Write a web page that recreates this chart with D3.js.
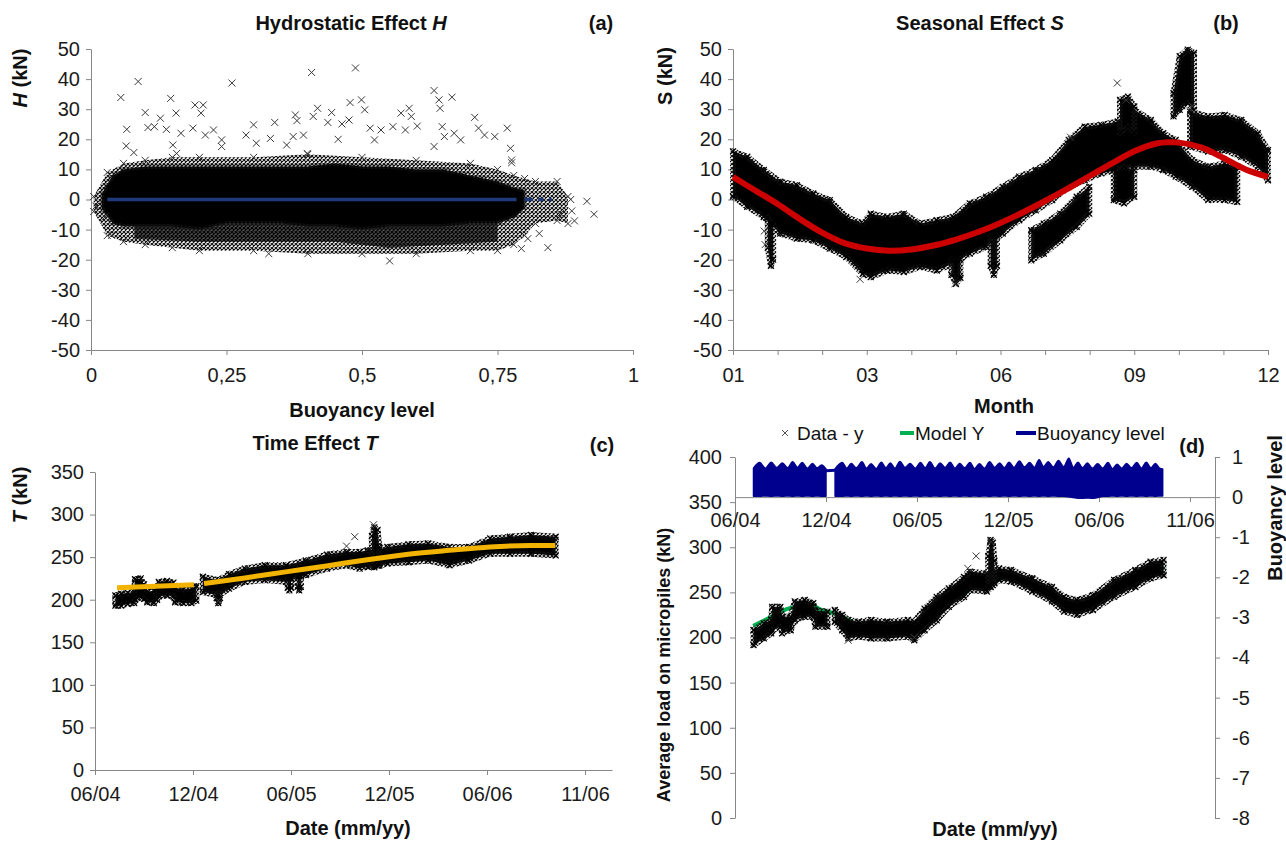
<!DOCTYPE html>
<html><head><meta charset="utf-8">
<script src="https://cdn.jsdelivr.net/npm/d3@7"></script>
<style>body{margin:0;background:#fff}svg text{font-family:"Liberation Sans",Arial,sans-serif}</style>
</head><body>
<svg id="chart" width="1286" height="844"></svg>
<script>
// ---------------- DATA ----------------
// (a) Hydrostatic effect H vs buoyancy level: [x, low, high] envelopes of the dense cloud
const hydroCore = [[0.02,-3,2],[0.04,-8,8],[0.06,-9,10],[0.10,-9,11],[0.15,-9,11],[0.20,-10,11],[0.25,-8,11],[0.30,-8,11],[0.35,-8,11],[0.40,-9,11],[0.45,-9,12],[0.50,-10,11],[0.55,-9,11],[0.60,-9,10],[0.65,-9,10],[0.70,-8,8],[0.75,-8,6],[0.78,-6,4],[0.80,-3,3]];
const hydroLowerDense = [[0.08,-13,-8],[0.20,-14,-8],[0.30,-14,-8],[0.45,-14,-8],[0.55,-16,-8],[0.65,-15,-8],[0.75,-14,-8]];
const hydroHalo = [[0.005,-4,1],[0.03,-12,9],[0.06,-14,12],[0.10,-15,13],[0.15,-16,14],[0.20,-17,14],[0.30,-17,14],[0.40,-18,15],[0.50,-18,14],[0.60,-18,13],[0.70,-17,12],[0.75,-17,10],[0.78,-15,8],[0.80,-12,7],[0.82,-8,6],[0.86,-7,6],[0.88,-8,1]];
const hydroOutliers = [[0.055,33.9],[0.087,39.2],[0.066,23.3],[0.065,17.8],[0.079,15.6],[0.10,28.9],[0.105,23.9],[0.117,24.2],[0.128,27],[0.147,33.6],[0.157,28.7],[0.139,23.3],[0.166,22],[0.151,18.1],[0.158,15.3],[0.192,31.4],[0.207,31.4],[0.203,28.7],[0.188,23.7],[0.226,23.1],[0.211,21.4],[0.241,19.8],[0.26,38.7],[0.241,17.6],[0.286,21.4],[0.30,24.8],[0.305,18.7],[0.339,25.6],[0.331,20.3],[0.328,-18],[0.361,18.1],[0.377,28.1],[0.38,26.2],[0.373,20.9],[0.392,21.4],[0.407,42.2],[0.41,27.6],[0.418,30.3],[0.399,15.3],[0.437,25.6],[0.444,28.9],[0.456,20],[0.463,25.1],[0.478,32.2],[0.488,43.7],[0.476,26.4],[0.499,33.1],[0.505,29.8],[0.515,23.7],[0.535,23.1],[0.523,19.8],[0.557,24.2],[0.572,28.7],[0.587,30.3],[0.58,23.1],[0.591,27.6],[0.602,24.4],[0.633,36.2],[0.642,33.1],[0.644,30.3],[0.666,34],[0.648,24.2],[0.633,17.6],[0.652,20.9],[0.67,22],[0.682,19.8],[0.708,27.3],[0.715,23.7],[0.726,21.4],[0.745,20.9],[0.768,23.7],[0.774,17],[0.776,13.1],[0.794,-16.3],[0.806,-13],[0.827,-11.3],[0.843,-16],[0.885,0],[0.887,-3.8],[0.892,-7.1],[0.915,-0.6],[0.928,-4.9],[0.866,-4.7],[0.009,-2.2],[0.026,-5.8],[0.038,-11.9],[0.551,-20.4],[0.776,12.2]];
const hydroModelSegments = [[0.03,0.785],[0.80,0.815],[0.825,0.835],[0.845,0.85]];
const hydroTickVals = [0,0.25,0.5,0.75,1];
const hydroTickLabels = ["0","0,25","0,5","0,75","1"];

// (b) Seasonal effect S vs month
const seasonCurve = [[0,7.5],[0.5,3],[1,-1.5],[1.5,-6.5],[2,-11],[2.5,-14.5],[3,-16.3],[3.5,-17],[4,-16.6],[4.5,-15.3],[5,-13.3],[5.5,-10.8],[6,-7.8],[6.5,-4.3],[7,-0.5],[7.5,3.5],[8,7.8],[8.5,12],[9,16],[9.5,18.6],[9.8,19],[10,18.9],[10.5,17.3],[11,13.8],[11.5,10],[12,7.5]];
const seasonMain = [[0,1,16],[0.32,-2.4,14.2],[0.69,-5.8,9.8],[1.06,-11.3,5.9],[1.43,-13,4.8],[1.8,-13.6,2],[2.17,-16.3,-0.2],[2.54,-19.1,-5.8],[2.91,-24.7,-8],[3.09,-25.8,-4.7],[3.46,-23.6,-5.8],[3.83,-24.1,-4.7],[4.2,-22.4,-8],[4.57,-23.6,-6.9],[4.94,-21.3,-5.8],[5.31,-18,-1.3],[5.68,-15.8,0.9],[6.05,-11.3,4.2],[6.42,-6.9,7.6],[6.79,-3.6,9.8],[7.16,-0.2,13.1],[7.53,4.2,19.8],[7.89,6.4,24.2],[8.26,8.7,24.8],[8.63,9.8,25.9],[9.0,10.9,29.8],[9.37,10.9,26.4],[9.65,9.8,22],[9.93,7.6,19.8],[10.3,4.2,13.1],[10.66,-0.2,10.9],[11.03,-0.2,12],[11.31,-0.8,10.9]];
const seasonUpper = [[10.25,17.6,29.2],[10.66,15.9,27.6],[11.03,16.4,28.1],[11.4,14.2,26.4],[11.77,10.9,22],[12,6.4,16.4]];
const seasonCluster = [[9.88,27.6,35.3],[10.02,29.8,47.6],[10.2,32,49.8],[10.34,29.8,48.7]];
const seasonSecondary = [[6.69,-20.2,-10.2],[6.97,-18,-8],[7.34,-13.6,-4.7],[7.71,-9.1,0.9],[7.99,-4.7,4.2]];
const seasonBlob = [[8.54,-0.2,9.8],[8.77,-1.3,10.9],[9.0,0.9,9.8]];
const seasonSpike = [[8.68,22,33.1],[8.86,24.2,34.2],[9.0,22,30.9]];
const seasonStreak1 = [[0.78,-16,-6],[0.85,-22,-8],[0.9,-20,-8]];
const seasonStreak2 = [[4.9,-25,-20],[5.0,-28,-20],[5.1,-26,-20]];
const seasonStreak3 = [[5.78,-22,-12],[5.85,-25,-12],[5.92,-22,-12]];
const seasonOutliers = [[8.62,38.7],[8.82,33],[7.57,20.7],[0.72,-15],[0.7,-10.5],[2.85,-26.5],[4.98,-28],[10.3,31]];
const seasonTickPos = [0,3,6,9,12];
const seasonTickLabels = ["01","03","06","09","12"];

// (c) Time effect T vs date (months since 06/04)
const timeSeg1 = [[1.25,193,205],[1.6,193,207],[2.0,195,208],[2.4,196,209],[2.45,200,224],[2.8,203,225],[3.0,201,218],[3.2,197,210],[3.6,196,210],[3.8,200,212],[3.9,204,221],[4.4,205,222],[4.8,204,220],[4.9,197,214],[5.4,196,212],[5.9,196,213],[6.2,199,216]];
const timeSeg2 = [[6.6,209,227],[7.55,205,223],[8.2,213,230],[9.18,221,236.6],[10.4,223,240.5],[11.7,221,240.5],[12.9,229,246],[14.2,236.6,253],[15.4,240.5,256],[16.2,236.6,256],[16.7,238.6,258],[17.4,240,259],[17.9,242.5,262],[19.2,244,265],[20.4,246,266],[21.7,240.5,262],[22.9,246,262],[24.2,254,272],[25.4,254,274],[26.7,254,276],[28.2,252,274]];
const timeDip1 = [[7.45,202,215],[7.55,196,215],[7.65,202,215]];
const timeDip2 = [[11.8,214,225],[11.9,211,225],[12.0,214,225]];
const timeDip3 = [[12.4,215,228],[12.5,211,228],[12.6,215,228]];
const timeSpike = [[16.95,240,275],[17.1,238,285],[17.3,240,282],[17.4,242,262]];
const timeOutliers = [[15.4,263],[15.9,274],[17.05,288],[7.55,199]];
const timeTrend1 = [[1.35,214],[6.05,217.5]];
const timeTrend2 = [[6.675,219],[9.175,225.6],[11.675,232.7],[14.175,239.7],[16.675,247],[19.175,253.4],[21.675,258],[24.175,262],[26.675,263.6],[28.175,263.6]];
const dateTickPos = [0,6,12,18,24,30];
const dateTickLabels = ["06/04","12/04","06/05","12/05","06/06","11/06"];

// (d) Average load and buoyancy level vs date
const loadSeg1 = [[1.22,191.7,208.3],[1.9,199,215.7],[2.39,204.6,219.4],[2.45,208,234],[2.99,212,234],[3.1,204.6,223],[3.67,208,223],[3.94,219,240],[4.6,223,241.5],[5.16,223,238],[5.3,212,230],[6.1,212,228.6]];
const loadSeg2 = [[6.58,217.5,230.5],[7.07,208,225],[7.47,199,219.4],[8.15,201,217.5],[8.97,199,219.4],[10.05,199,217.5],[11.4,201,219.4],[11.82,197,217.5],[12.5,208,232],[13.3,219,245],[14.1,234,254.5],[15.1,245,267],[15.5,252.6,273],[16.6,251,271],[17.4,263.7,276.6],[18.2,262,274.8],[19.6,251,265.6],[20.9,240,256],[21.7,228.6,245],[22.55,225,241.5],[23.6,230.5,247],[25.0,245,263.7],[26.4,256,274.8],[27.4,265.6,284],[28.26,269,286]];
const loadSpike = [[16.7,256,290],[16.85,256,308],[17.0,258,305],[17.1,260,285]];
const loadOutliers = [[15.35,276.6],[15.9,290.3],[7.47,197],[11.82,200],[16.9,306]];
const loadModel = [[1.2,213],[2.4,223],[3.5,232],[4.9,236],[5.8,230],[6.5,227],[7.3,221],[8.5,212],[10,210],[11,211],[12,214],[13,228],[14,240],[15.0,247],[15.6,255],[17.0,264],[18,266],[19,260],[20,252],[21,245],[22,238],[22.8,236],[23.6,240],[24.5,248],[25.5,257],[26.5,266],[27.5,274],[28.3,277]];
const buoySeg1 = [[1.22,0.02,0.72],[1.63,0.02,0.86],[2.0,0.03,0.72],[2.39,0.02,0.87],[2.75,0.03,0.74],[3.13,0.02,0.85],[3.47,0.03,0.73],[3.80,0.02,0.88],[4.12,0.03,0.74],[4.43,0.02,0.86],[4.77,0.03,0.72],[5.11,0.02,0.84],[5.41,0.03,0.73],[5.71,0.02,0.80],[6.0,0.02,0.70]];
const buoyGap = [[6.0,0.66],[6.6,0.67]];
const buoySeg2 = [[6.6,0.02,0.70],[7.07,0.02,0.86],[7.37,0.03,0.72],[7.66,0.02,0.84],[8.0,0.03,0.73],[8.37,0.02,0.88],[8.67,0.03,0.72],[8.97,0.02,0.83],[9.31,0.03,0.71],[9.65,0.02,0.87],[9.95,0.03,0.73],[10.24,0.02,0.85],[10.55,0.03,0.72],[10.87,0.02,0.89],[11.21,0.03,0.74],[11.55,0.02,0.84],[11.89,0.03,0.72],[12.23,0.02,0.86],[12.54,0.03,0.73],[12.85,0.02,0.88],[13.19,0.03,0.72],[13.53,0.02,0.85],[13.85,0.03,0.74],[14.18,0.02,0.87],[14.5,0.03,0.72],[14.81,0.02,0.84],[15.15,0.03,0.73],[15.49,0.02,0.86],[15.8,0.03,0.71],[16.11,0.02,0.83],[16.45,0.03,0.72],[16.79,0.02,0.88],[17.12,0.03,0.74],[17.45,0.02,0.85],[17.76,0.03,0.73],[18.07,0.02,0.87],[18.41,0.03,0.74],[18.75,0.02,0.90],[19.09,0.03,0.75],[19.43,0.02,0.86],[19.74,0.03,0.74],[20.05,0.02,0.93],[20.35,0.03,0.76],[20.65,0.02,0.88],[20.99,0.03,0.75],[21.33,0.02,0.91],[21.67,0.02,0.76],[22.01,0.01,0.97],[22.31,-0.01,0.74],[22.61,-0.03,0.87],[22.92,-0.03,0.73],[23.23,-0.02,0.85],[23.57,-0.03,0.72],[23.91,-0.01,0.83],[24.25,0.02,0.72],[24.59,0.02,0.86],[24.89,0.03,0.71],[25.19,0.02,0.82],[25.5,0.03,0.72],[25.82,0.02,0.84],[26.15,0.03,0.73],[26.49,0.02,0.86],[26.8,0.03,0.72],[27.12,0.02,0.87],[27.42,0.03,0.73],[27.72,0.02,0.84],[28.0,0.03,0.72],[28.2,0.03,0.70]];
const loadTicks = [0,50,100,150,200,250,300,350,400];
const buoyTicks = [-8,-7,-6,-5,-4,-3,-2,-1,0,1];
const hsTicks = [-50,-40,-30,-20,-10,0,10,20,30,40,50];
const timeTicks = [0,50,100,150,200,250,300,350];

// ---------------- DRAWING ----------------
const svg = d3.select("#chart");
const FONT = '"Liberation Sans", Arial, sans-serif';
const AXIS = "#878787";
const plain = d => String(d);   // hyphen-minus like the original
const defs = svg.append("defs");
const pat = defs.append("pattern").attr("id","xp").attr("width",4).attr("height",4).attr("patternUnits","userSpaceOnUse");
pat.append("path").attr("d","M0,0L4,4M4,0L0,4").attr("stroke","#111").attr("stroke-width",1.2);

function styleAxis(g, size){
  g.select(".domain").attr("stroke", AXIS).attr("stroke-width",1);
  g.selectAll(".tick line").attr("stroke", AXIS);
  g.selectAll(".tick text").attr("font-size", size||20).attr("fill","#1a1a1a").attr("font-family", FONT);
}
function band(g, data, x, y, fill, edge){
  g.append("path").datum(data)
    .attr("d", d3.area().x(d=>x(d[0])).y0(d=>y(d[1])).y1(d=>y(d[2])))
    .attr("fill", fill)
    .attr("stroke", edge ? "url(#xp)" : "none")
    .attr("stroke-width", edge || 0)
    .attr("stroke-linejoin","round");
}
function crosses(g, data, x, y, s, color, sw){
  g.selectAll(null).data(data).join("path")
    .attr("d", `M${-s},${-s}L${s},${s}M${s},${-s}L${-s},${s}`)
    .attr("transform", d=>`translate(${x(d[0])},${y(d[1])})`)
    .attr("stroke", color).attr("stroke-width", sw).attr("fill","none");
}
function blackBand(g, data, x, y){
  band(g, data, x, y, "#000", 6);
  crosses(g, data.map(d=>[d[0],d[1]]), x, y, 3, "#000", 1.2);
  crosses(g, data.map(d=>[d[0],d[2]]), x, y, 3, "#000", 1.2);
}
function text(t, x, y, opts){
  const el = svg.append("text").attr("x",x).attr("y",y).attr("text-anchor", opts.anchor||"middle")
    .attr("font-size", opts.size||20).attr("font-weight", opts.bold?"bold":"normal").attr("fill","#111").attr("font-family",FONT);
  if (opts.rotate) el.attr("transform", `rotate(${opts.rotate},${x},${y})`);
  (Array.isArray(t)?t:[[t,false]]).forEach(([s,it])=>el.append("tspan").attr("font-style", it?"italic":"normal").text(s));
  return el;
}

// ===== Panel (a) =====
const xA = d3.scaleLinear([0,1],[91,633]);
const yA = d3.scaleLinear([-50,50],[350,49]);
const gA = svg.append("g");
styleAxis(gA.append("g").attr("transform","translate(0,350)")
  .call(d3.axisBottom(xA).tickValues(hydroTickVals).tickFormat((d,i)=>hydroTickLabels[i]).tickSize(5).tickSizeOuter(0).tickPadding(13)));
styleAxis(gA.append("g").attr("transform","translate(91,0)")
  .call(d3.axisLeft(yA).tickValues(hsTicks).tickFormat(plain).tickSize(5).tickSizeOuter(0).tickPadding(6)));
band(gA, hydroHalo, xA, yA, "url(#xp)", 0);
band(gA, hydroLowerDense, xA, yA, "rgba(0,0,0,0.7)", 0);
crosses(gA, hydroHalo.map(d=>[d[0],d[1]]), xA, yA, 3.5, "#333", 1);
crosses(gA, hydroHalo.map(d=>[d[0],d[2]]), xA, yA, 3.5, "#333", 1);
band(gA, hydroCore, xA, yA, "#000", 5);
crosses(gA, hydroOutliers, xA, yA, 3.5, "#3a3a3a", 1);
hydroModelSegments.forEach(s=>{
  gA.append("line").attr("x1",xA(s[0])).attr("x2",xA(s[1])).attr("y1",yA(0)).attr("y2",yA(0))
    .attr("stroke","#1f3a7a").attr("stroke-width",3.5);
});
text([["Hydrostatic Effect ",false],["H",true]], 351, 30, {bold:true, size:20});
text("(a)", 601, 30, {bold:true, size:20});
text([["H",true],[" (kN)",false]], 27, 78, {bold:true, size:20, rotate:-90});
text("Buoyancy level", 362, 417, {bold:true, size:20});

// ===== Panel (b) =====
const xB = d3.scaleLinear([0,12],[733,1268]);
const yB = d3.scaleLinear([-50,50],[350,49]);
const gB = svg.append("g");
styleAxis(gB.append("g").attr("transform","translate(0,350)")
  .call(d3.axisBottom(xB).tickValues(d3.range(0,13)).tickFormat(d=>{const i=seasonTickPos.indexOf(d);return i<0?"":seasonTickLabels[i];}).tickSize(5).tickSizeOuter(0).tickPadding(13)));
styleAxis(gB.append("g").attr("transform","translate(733,0)")
  .call(d3.axisLeft(yB).tickValues(hsTicks).tickFormat(plain).tickSize(5).tickSizeOuter(0).tickPadding(6)));
[seasonMain, seasonUpper, seasonCluster, seasonSecondary, seasonBlob, seasonSpike, seasonStreak1, seasonStreak2, seasonStreak3]
  .forEach(b=>blackBand(gB, b, xB, yB));
crosses(gB, seasonOutliers, xB, yB, 3.5, "#3a3a3a", 1);
gB.append("path").datum(seasonCurve).attr("d", d3.line().x(d=>xB(d[0])).y(d=>yB(d[1])).curve(d3.curveCatmullRom))
  .attr("fill","none").attr("stroke","#cc0000").attr("stroke-width",6);
text([["Seasonal Effect ",false],["S",true]], 980, 30, {bold:true, size:20});
text("(b)", 1226, 30, {bold:true, size:20});
text("S (kN)", 672, 76, {bold:true, size:20, rotate:-90});
text("Month", 1004, 413, {bold:true, size:20});

// ===== Panel (c) =====
const xC = d3.scaleLinear([0,31.65],[95,612]);
const yC = d3.scaleLinear([0,350],[770,472]);
const gC = svg.append("g");
styleAxis(gC.append("g").attr("transform","translate(0,770)")
  .call(d3.axisBottom(xC).tickValues(dateTickPos).tickFormat((d,i)=>dateTickLabels[i]).tickSize(5).tickSizeOuter(0).tickPadding(12)));
styleAxis(gC.append("g").attr("transform","translate(95,0)")
  .call(d3.axisLeft(yC).tickValues(timeTicks).tickFormat(plain).tickSize(5).tickSizeOuter(0).tickPadding(6)));
[timeSeg1, timeSeg2, timeDip1, timeDip2, timeDip3, timeSpike].forEach(b=>blackBand(gC, b, xC, yC));
crosses(gC, timeOutliers, xC, yC, 3.5, "#3a3a3a", 1);
[timeTrend1, timeTrend2].forEach(t=>{
  gC.append("path").datum(t).attr("d", d3.line().x(d=>xC(d[0])).y(d=>yC(d[1])).curve(d3.curveMonotoneX))
    .attr("fill","none").attr("stroke","#f2b400").attr("stroke-width",5);
});
text([["Time Effect ",false],["T",true]], 315, 450, {bold:true, size:20});
text("(c)", 602, 452, {bold:true, size:20});
text([["T",true],[" (kN)",false]], 27, 495, {bold:true, size:20, rotate:-90});
text("Date (mm/yy)", 348, 835, {bold:true, size:20});

// ===== Panel (d) =====
const xD = d3.scaleLinear([0,31.65],[735,1215]);
const yD = d3.scaleLinear([0,400],[818,457]);
const yD2 = d3.scaleLinear([-8,1],[818,457]);
const gD = svg.append("g");
styleAxis(gD.append("g").attr("transform","translate(735,0)")
  .call(d3.axisLeft(yD).tickValues(loadTicks).tickFormat(plain).tickSize(5).tickSizeOuter(0).tickPadding(8)));
styleAxis(gD.append("g").attr("transform","translate(1215,0)")
  .call(d3.axisRight(yD2).tickValues(buoyTicks).tickFormat(plain).tickSize(5).tickSizeOuter(0).tickPadding(12)));
styleAxis(gD.append("g").attr("transform",`translate(0,${yD2(0)})`)
  .call(d3.axisBottom(xD).tickValues(dateTickPos).tickFormat((d,i)=>dateTickLabels[i]).tickSize(5).tickSizeOuter(0).tickPadding(11)));
const navy = "#00008f";
[buoySeg1, buoySeg2].forEach(b=>{
  gD.append("path").datum(b).attr("d", d3.area().x(d=>xD(d[0])).y0(d=>yD2(d[1])).y1(d=>yD2(d[2])).curve(d3.curveMonotoneX))
    .attr("fill", navy).attr("stroke", navy).attr("stroke-width",1.5).attr("stroke-linejoin","round");
});
gD.append("path").datum(buoyGap).attr("d", d3.line().x(d=>xD(d[0])).y(d=>yD2(d[1])))
  .attr("fill","none").attr("stroke",navy).attr("stroke-width",3);
gD.append("path").datum(loadModel).attr("d", d3.line().x(d=>xD(d[0])).y(d=>yD(d[1])).curve(d3.curveMonotoneX))
  .attr("fill","none").attr("stroke","#00b050").attr("stroke-width",4);
[loadSeg1, loadSeg2, loadSpike].forEach(b=>blackBand(gD, b, xD, yD));
crosses(gD, loadOutliers, xD, yD, 3.5, "#3a3a3a", 1);
// legend
crosses(svg, [[785,433]], d=>d, d=>d, 3, "#555", 1);
text("Data - y", 797, 440, {size:19, anchor:"start"});
svg.append("line").attr("x1",900).attr("x2",914).attr("y1",433).attr("y2",433).attr("stroke","#00b050").attr("stroke-width",4);
text("Model Y", 915, 440, {size:19, anchor:"start"});
svg.append("line").attr("x1",1016).attr("x2",1036).attr("y1",433).attr("y2",433).attr("stroke",navy).attr("stroke-width",4);
text("Buoyancy level", 1037, 440, {size:19, anchor:"start"});
text("(d)", 1192, 453, {bold:true, size:20});
text("Average load on micropiles (kN)", 670, 665, {bold:true, size:18, rotate:-90});
text("Buoyancy level", 1282, 508, {bold:true, size:20, rotate:-90});
text("Date (mm/yy)", 995, 836, {bold:true, size:20});
</script>
</body></html>
